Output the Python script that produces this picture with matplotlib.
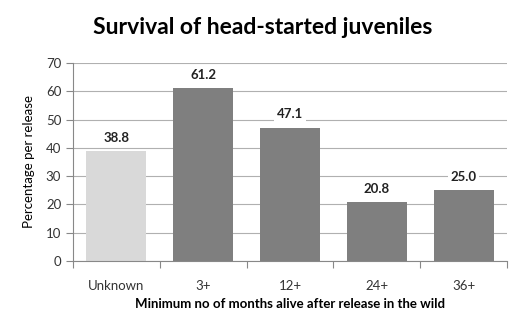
import matplotlib
matplotlib.use("Agg")
import matplotlib.pyplot as plt

plt.rcParams['font.family'] = ['Lato', 'DejaVu Sans']

categories = ["Unknown", "3+", "12+", "24+", "36+"]
values = [38.8, 61.2, 47.1, 20.8, 25.0]
bar_colors = ["#d9d9d9", "#7f7f7f", "#7f7f7f", "#7f7f7f", "#7f7f7f"]
yticks = [0, 10, 20, 30, 40, 50, 60, 70]

fig = plt.figure(figsize=(5.25, 3.23), dpi=100)
ax = fig.add_axes([73 / 525, 1 - 261 / 323, 434 / 525, 198 / 323])

x = range(len(categories))
ax.bar(x, values, width=0.69, color=bar_colors, zorder=2)
for i, v in enumerate(values):
    ax.text(i, v + 2.6, "%.1f" % v, ha="center", va="bottom", fontsize=9.5,
            fontweight="bold", color="#222222", zorder=3,
            bbox=dict(facecolor="white", edgecolor="none", pad=2))

ax.set_xlim(-0.5, len(categories) - 0.5)
ax.set_ylim(0, 70)
ax.set_yticks(yticks)
ax.yaxis.grid(True, color="#b0b0b0", linewidth=0.8, zorder=0)
ax.set_axisbelow(True)

ax.set_xticks([i + 0.5 for i in range(-1, len(categories))], minor=False)
ax.set_xticklabels([])
ax.set_xticks(list(x), minor=True)
ax.set_xticklabels(categories, minor=True)
ax.tick_params(axis="x", which="major", length=5, color="#888888", direction="out")
ax.tick_params(axis="x", which="minor", length=0, pad=14, labelsize=9.5, labelcolor="#333333")
ax.tick_params(axis="y", length=5, color="#888888", labelsize=9.5, labelcolor="#333333")

for s in ["top", "right"]:
    ax.spines[s].set_visible(False)
for s in ["left", "bottom"]:
    ax.spines[s].set_color("#888888")
    ax.spines[s].set_linewidth(0.8)

ax.set_ylabel("Percentage per release", fontsize=9.5, labelpad=8)
ax.set_xlabel("Minimum no of months alive after release in the wild", fontsize=9.5,
              fontweight="bold", labelpad=4)
fig.text(0.5, 1 - 28 / 323, "Survival of head-started juveniles", ha="center",
         va="center", fontsize=16.5, fontweight="bold")

fig.savefig("out.png", dpi=100)
